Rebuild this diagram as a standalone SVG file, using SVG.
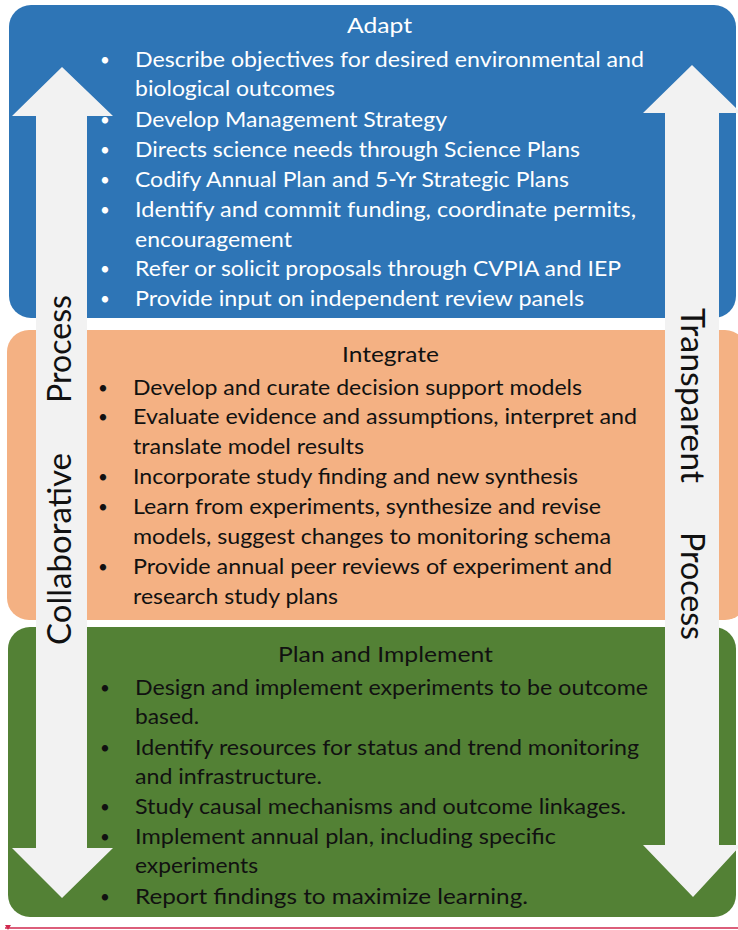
<svg xmlns="http://www.w3.org/2000/svg" width="738" height="930" viewBox="0 0 738 930">
<style>
text{font-family:Lato,"Open Sans","Liberation Sans",sans-serif;font-size:21px}
.w{fill:#ffffff}
.d{fill:#111111}
.b text{font-size:17px}
.arrow{fill:#f2f2f2}
.lab{font-size:32px;fill:#111111}
</style>
<rect width="738" height="930" fill="#ffffff"/>
<g id="adapt">
<rect x="9" y="5" width="727" height="313" rx="22" fill="#2e75b6"/>
<text class="w" x="347" y="33" textLength="65" lengthAdjust="spacingAndGlyphs">Adapt</text>
<g class="w b">
<text x="100" y="66">•</text><text x="100" y="126">•</text><text x="100" y="156">•</text><text x="100" y="186">•</text><text x="100" y="216">•</text><text x="100" y="275">•</text><text x="100" y="305">•</text>
</g>
<text class="w" x="135" y="67" textLength="509" lengthAdjust="spacingAndGlyphs">Describe objectives for desired environmental and</text>
<text class="w" x="135" y="96" textLength="200" lengthAdjust="spacingAndGlyphs">biological outcomes</text>
<text class="w" x="135" y="127" textLength="312" lengthAdjust="spacingAndGlyphs">Develop Management Strategy</text>
<text class="w" x="135" y="157" textLength="445" lengthAdjust="spacingAndGlyphs">Directs science needs through Science Plans</text>
<text class="w" x="135" y="187" textLength="434" lengthAdjust="spacingAndGlyphs">Codify Annual Plan and 5-Yr Strategic Plans</text>
<text class="w" x="135" y="217" textLength="501" lengthAdjust="spacingAndGlyphs">Identify and commit funding, coordinate permits,</text>
<text class="w" x="135" y="247" textLength="157" lengthAdjust="spacingAndGlyphs">encouragement</text>
<text class="w" x="135" y="276" textLength="486" lengthAdjust="spacingAndGlyphs">Refer or solicit proposals through CVPIA and IEP</text>
<text class="w" x="135" y="306" textLength="449" lengthAdjust="spacingAndGlyphs">Provide input on independent review panels</text>
</g>
<g id="integrate">
<rect x="7" y="330" width="740" height="290" rx="22" fill="#f4b183"/>
<text class="d" x="342" y="362" textLength="97" lengthAdjust="spacingAndGlyphs">Integrate</text>
<g class="d b">
<text x="98" y="394">•</text><text x="98" y="423">•</text><text x="98" y="483">•</text><text x="98" y="513">•</text><text x="98" y="573">•</text>
</g>
<text class="d" x="133" y="395" textLength="449" lengthAdjust="spacingAndGlyphs">Develop and curate decision support models</text>
<text class="d" x="133" y="424" textLength="504" lengthAdjust="spacingAndGlyphs">Evaluate evidence and assumptions, interpret and</text>
<text class="d" x="133" y="454" textLength="231" lengthAdjust="spacingAndGlyphs">translate model results</text>
<text class="d" x="133" y="484" textLength="445" lengthAdjust="spacingAndGlyphs">Incorporate study finding and new synthesis</text>
<text class="d" x="133" y="514" textLength="468" lengthAdjust="spacingAndGlyphs">Learn from experiments, synthesize and revise</text>
<text class="d" x="133" y="544" textLength="478" lengthAdjust="spacingAndGlyphs">models, suggest changes to monitoring schema</text>
<text class="d" x="133" y="574" textLength="479" lengthAdjust="spacingAndGlyphs">Provide annual peer reviews of experiment and</text>
<text class="d" x="133" y="604" textLength="205" lengthAdjust="spacingAndGlyphs">research study plans</text>
</g>
<g id="plan-implement">
<rect x="8" y="627" width="728" height="290" rx="22" fill="#538135"/>
<text class="d" x="278" y="662" textLength="215" lengthAdjust="spacingAndGlyphs">Plan and Implement</text>
<g class="d b">
<text x="100" y="694">•</text><text x="100" y="754">•</text><text x="100" y="813">•</text><text x="100" y="843">•</text><text x="100" y="903">•</text>
</g>
<text class="d" x="135" y="695" textLength="513" lengthAdjust="spacingAndGlyphs">Design and implement experiments to be outcome</text>
<text class="d" x="135" y="724" textLength="64" lengthAdjust="spacingAndGlyphs">based.</text>
<text class="d" x="135" y="755" textLength="504" lengthAdjust="spacingAndGlyphs">Identify resources for status and trend monitoring</text>
<text class="d" x="135" y="784" textLength="187" lengthAdjust="spacingAndGlyphs">and infrastructure.</text>
<text class="d" x="135" y="814" textLength="491" lengthAdjust="spacingAndGlyphs">Study causal mechanisms and outcome linkages.</text>
<text class="d" x="135" y="844" textLength="421" lengthAdjust="spacingAndGlyphs">Implement annual plan, including specific</text>
<text class="d" x="135" y="873" textLength="123" lengthAdjust="spacingAndGlyphs">experiments</text>
<text class="d" x="135" y="904" textLength="393" lengthAdjust="spacingAndGlyphs">Report findings to maximize learning.</text>
</g>
<g id="connectors">
<polygon class="arrow" points="62,67 113,116 87,116 87,848 113,848 62,898 12,848 36,848 36,116 12,116"/>
<polygon class="arrow" points="692,65 741,113 719,113 719,845 741,845 693,897 643,845 665,845 665,113 643,113"/>
</g>
<g id="collaborative-process">
<text class="lab" transform="translate(71,645) rotate(-90)" textLength="192" lengthAdjust="spacingAndGlyphs">Collaborative</text>
<text class="lab" transform="translate(71,403) rotate(-90)" textLength="108" lengthAdjust="spacingAndGlyphs">Process</text>
</g>
<g id="transparent-process">
<text class="lab" transform="translate(681,308) rotate(90)" textLength="175" lengthAdjust="spacingAndGlyphs">Transparent</text>
<text class="lab" transform="translate(681,532) rotate(90)" textLength="108" lengthAdjust="spacingAndGlyphs">Process</text>
</g>
<g id="footer-line">
<line x1="5" y1="928" x2="738" y2="928" stroke="#d0284e" stroke-width="1.5"/>
<polygon points="5,925 11,925 8,930" fill="#d0284e"/>
</g>
</svg>
